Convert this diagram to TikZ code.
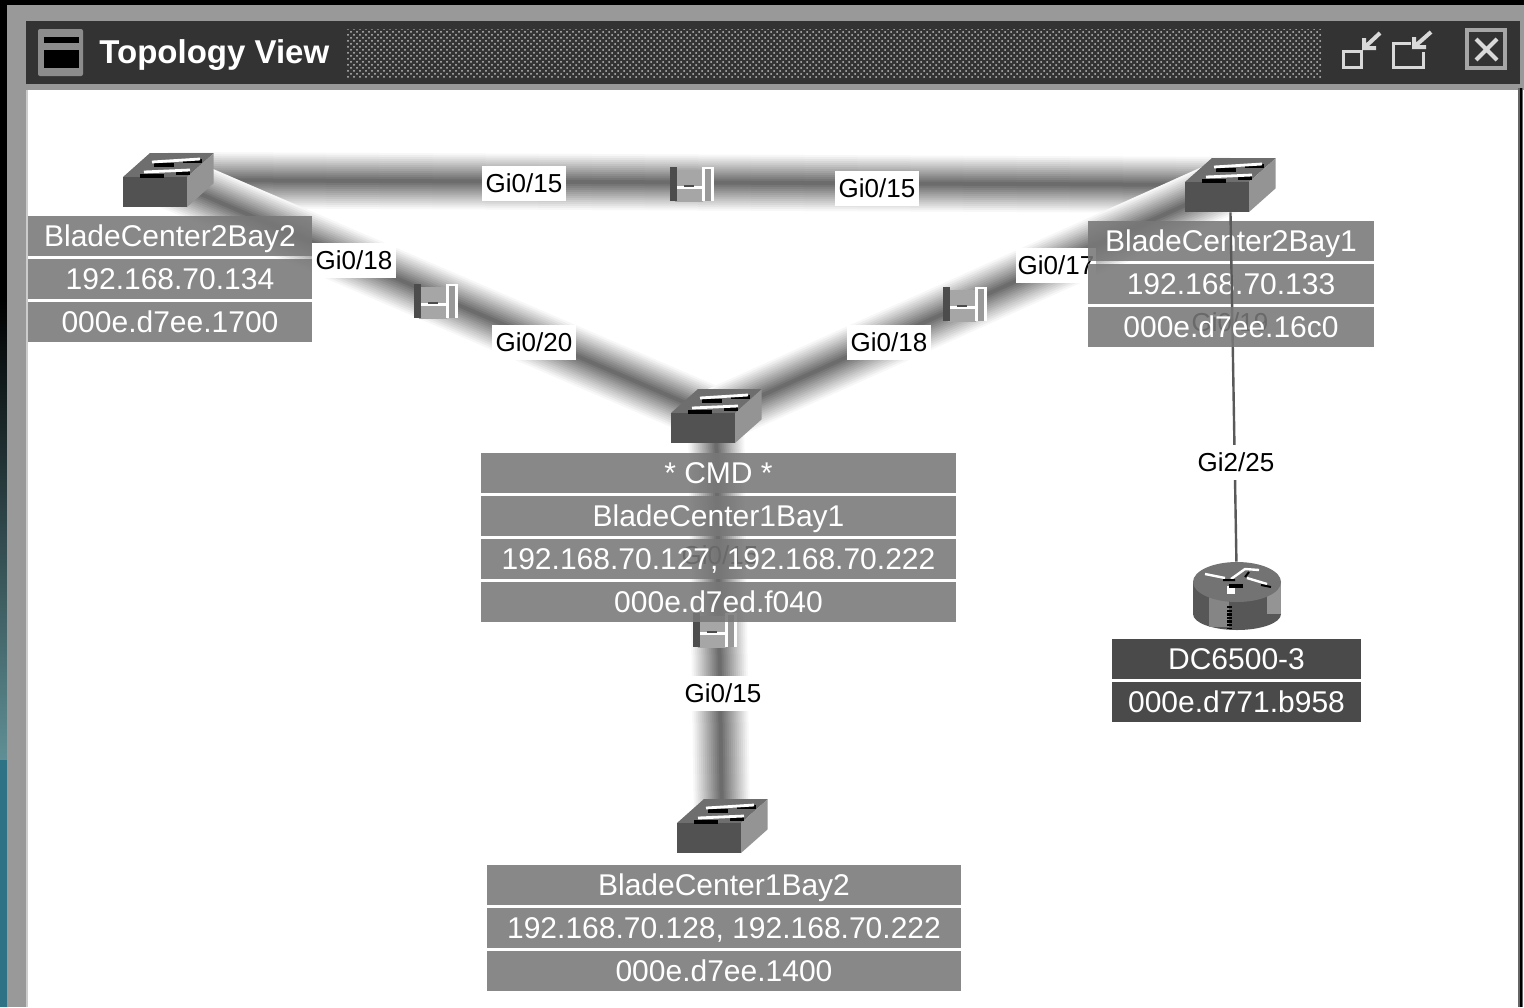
\documentclass[tikz,border=0pt]{standalone}
\usepackage{fontspec}
\setmainfont{Liberation Sans}
\usetikzlibrary{patterns}
\definecolor{rowgray}{HTML}{787878}
\definecolor{rowdark}{HTML}{4A4A4A}
\definecolor{barcolor}{HTML}{333333}
\definecolor{wingray}{HTML}{999999}
\definecolor{deskteal}{HTML}{2E7285}
\definecolor{desklight}{HTML}{5F8F95}
\pgfdeclarelayer{links}
\pgfsetlayers{links,main}
\newcommand{\switchbody}{%
  \begin{scope}[shift={(path picture bounding box.center)}]
    \fill[black!57] (-45,-3) -- (-18,-27) -- (46,-27) -- (19,-3) -- cycle;
    \fill[black!68] (-45,-3) rectangle (19,27);
    \fill[black!42] (19,-3) -- (46,-27) -- (46,3) -- (19,27) -- cycle;
    \draw[black,line width=1.6pt] (-14,-15) -- (6,-15) (15,-19) -- (34,-19);
    \draw[white,line width=1.4pt] (-16,-18) -- (32,-21);
    \draw[black,line width=2.2pt] (-28,-4) -- (-4,-4) (8,-7) -- (22,-7);
    \draw[white,line width=1.4pt] (-24,-8) -- (22,-10);
  \end{scope}}
\newcommand{\routerbody}{%
  \begin{scope}[shift={(path picture bounding box.center)}]
    \fill[black!66] (-44,-14) rectangle (44,18);
    \fill[black!66] (0,18) ellipse [x radius=44, y radius=16];
    \fill[black!48] (-28,-14) rectangle (-8,31);
    \fill[black!42] (30,-14) rectangle (44,18);
    \draw[black,line width=2.5pt,dash pattern=on 1.2pt off 0.6pt] (-8,10) -- (-8,33);
    \fill[black!55] (0,-14) ellipse [x radius=44, y radius=20];
    \draw[white,line width=1.2pt] (-32,-22) -- (-12,-18) (-6,-17) -- (8,-27) -- (22,-26) (10,-18) -- (30,-12);
    \draw[black,line width=1pt] (-14,-16) -- (-2,-16) (12,-24) -- (8,-19) (24,-11) -- (34,-9);
    \fill[white] (-10,-10) rectangle (-2,-2);
    \fill[black] (-8,-8) rectangle (6,-12);
  \end{scope}}
\newcommand{\linkbody}{%
  \begin{scope}[shift={(path picture bounding box.center)}]
    \fill[black!35] (-17,-14) rectangle (11,18);
    \fill[white] (-15,2) rectangle (11,5);
    \fill[black!70] (-8,1) rectangle (2,3);
    \fill[black!70] (-22,-17) rectangle (-15,17);
    \fill[white] (10,-17) rectangle (22,17);
    \fill[black!40] (13,-15) rectangle (19,17);
  \end{scope}}
\newcommand{\fadelink}[2]{%
  \foreach \i in {0,...,13}{
    \pgfmathsetmacro{\wd}{(56-4*\i)*0.5}
    \pgfmathsetmacro{\dk}{3+4.2*\i}
    \draw[black!\dk,line width=\wd pt] (#1.center) -- (#2.center);
  }}

\begin{document}
\begin{tikzpicture}[x=0.5pt,y=-0.5pt,node distance=21.5pt,
    switch node/.style={inner sep=0pt,minimum width=45.5pt,minimum height=27pt,path picture={\switchbody}},
    router node/.style={inner sep=0pt,minimum width=45pt,minimum height=34pt,path picture={\routerbody}},
    link node/.style={inner sep=0pt,minimum width=22pt,minimum height=17.5pt,path picture={\linkbody}},
    row box/.style={fill=rowgray,fill opacity=0.88,text opacity=1,text=white,inner sep=0pt,
                    text height=10.8pt,text depth=0pt,
                    minimum height=20pt,minimum width=#1,font=\fontsize{15pt}{15pt}\selectfont},
    dark box/.style={row box=#1,fill=rowdark,fill opacity=1},
    port node/.style={fill=white,text=black,inner sep=0pt,minimum width=42pt,minimum height=17.5pt,
                      font=\fontsize{13pt}{13pt}\selectfont},
    ghost node/.style={text=black,inner sep=0pt,font=\fontsize{13pt}{13pt}\selectfont}]
  \useasboundingbox (0,0) rectangle (1524,1007);
  \begin{pgfonlayer}{links}
    \fill[black] (0,0) rectangle (1524,1007);
    \shade[top color=black,bottom color=desklight] (0,300) rectangle (7,760);
    \fill[deskteal] (0,760) rectangle (7,1007);
    \fill[wingray] (7,5) rectangle (1524,1007);
    \fill[white] (28,90) rectangle (1524,1007);
    \fill[black!20] (26,90) rectangle (28,1007);
    \fill[black!60] (1518,88) rectangle (1523,1007);
    \fill[black] (1519.5,88) rectangle (1521.5,1007);
    \fill[barcolor] (26,21) rectangle (1520,84);
    \fill[pattern=crosshatch dots,pattern color=black!25] (347,29) rectangle (1322,77);
    \fill[black!45,rounded corners=1pt] (38,29) rectangle (83,76);
    \fill[black] (44,37) rectangle (79,43);
    \fill[black] (44,50) rectangle (79,68);
    \draw[black!15,line width=1.5pt] (1343,51) rectangle (1361,67);
    \draw[black!15,line width=2pt] (1380,33) -- (1364,48) (1364,38) -- (1364,48) -- (1376,48);
    \draw[black!15,line width=1.5pt] (1411,43) -- (1393,43) -- (1393,67) -- (1423,67) -- (1423,52);
    \draw[black!15,line width=2pt] (1431,32) -- (1414,47) (1414,37) -- (1414,47) -- (1426,47);
    \draw[black!35,line width=2pt] (1467,30) rectangle (1505,68);
    \draw[black!15,line width=2pt] (1476,39) -- (1497,60) (1497,39) -- (1476,60);
  \end{pgfonlayer}

  \node[text=white,inner sep=0pt,anchor=west,font=\fontsize{16.5pt}{16.5pt}\selectfont\bfseries] (title) at (99,55) {Topology View};

  \node[switch node] (bc2b2) at (168,180) {};
  \node[switch node] (bc2b1) at (1230,185) {};
  \node[switch node] (bc1b1) at (716,416) {};
  \node[switch node] (bc1b2) at (722,826) {};
  \node[router node] (dc) at (1237,596) {};

  \begin{pgfonlayer}{links}
    \fadelink{bc2b2}{bc2b1}
    \fadelink{bc2b2}{bc1b1}
    \fadelink{bc2b1}{bc1b1}
    \fadelink{bc1b1}{bc1b2}
  \end{pgfonlayer}

  \node[link node] (ln1) at (692,184) {};
  \node[link node] (ln2) at (436,301) {};
  \node[link node] (ln3) at (965,304) {};
  \node[link node] (ln4) at (715,630) {};

  \node[port node] at (524,183) {Gi0/15};
  \node[port node] at (877,188) {Gi0/15};
  \node[port node] at (354,260) {Gi0/18};
  \node[port node] at (534,342) {Gi0/20};
  \node[port node] at (889,342) {Gi0/18};
  \node[port node,minimum width=40pt] at (1056,265) {Gi0/17};
  \node[port node] at (723,693) {Gi0/15};

  \node[ghost node] at (720,555) {Gi0/15};
  \node[ghost node] at (1230,322) {Gi0/19};

  \node[row box=142pt] (a1) at (170,235.5) {BladeCenter2Bay2};
  \node[row box=142pt] (a2) [below of=a1] {192.168.70.134};
  \node[row box=142pt] (a3) [below of=a2] {000e.d7ee.1700};

  \node[row box=143pt] (b1) at (1231,241) {BladeCenter2Bay1};
  \node[row box=143pt] (b2) [below of=b1] {192.168.70.133};
  \draw[black!65,line width=1.2pt] (bc2b1) -- (dc);
  \node[row box=143pt] (b3) [below of=b2] {000e.d7ee.16c0};
  \node[port node,minimum width=40pt] at (1236,462) {Gi2/25};

  \node[row box=237.5pt] (c1) at (718.5,473) {* CMD *};
  \node[row box=237.5pt] (c2) [below of=c1] {BladeCenter1Bay1};
  \node[row box=237.5pt] (c3) [below of=c2] {192.168.70.127, 192.168.70.222};
  \node[row box=237.5pt] (c4) [below of=c3] {000e.d7ed.f040};

  \node[row box=237pt] (d1) at (724,884.5) {BladeCenter1Bay2};
  \node[row box=237pt] (d2) [below of=d1] {192.168.70.128, 192.168.70.222};
  \node[row box=237pt] (d3) [below of=d2] {000e.d7ee.1400};

  \node[dark box=124.5pt] (e1) at (1236.5,659) {DC6500-3};
  \node[dark box=124.5pt] (e2) [below of=e1] {000e.d771.b958};
\end{tikzpicture}
\end{document}
